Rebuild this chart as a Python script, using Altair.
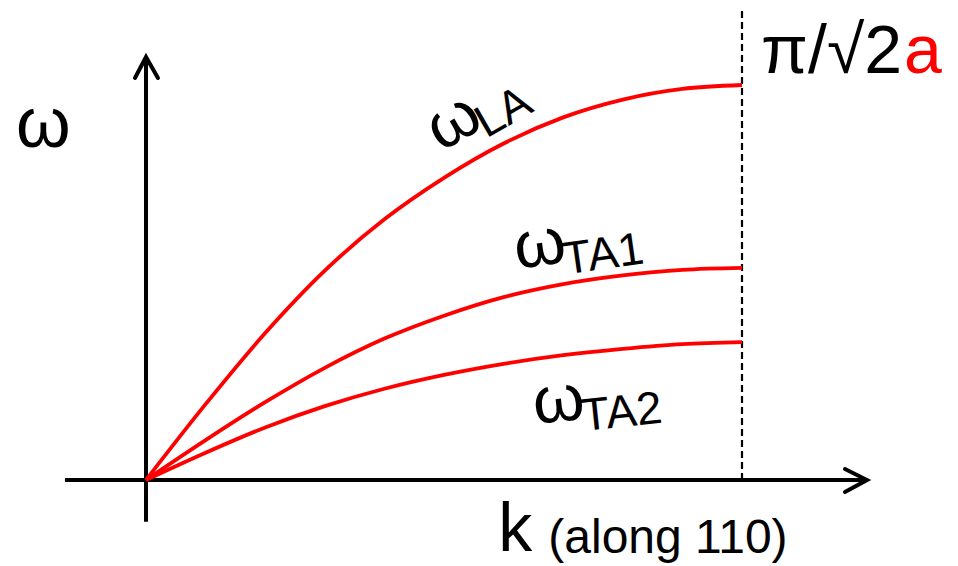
import altair as alt
import pandas as pd

# ---- data (k normalised to the zone edge, omega normalised to LA maximum) ----
k_grid = [0, 0.1, 0.2, 0.3, 0.4, 0.5, 0.6, 0.7, 0.8, 0.9, 1.0]
w_LA = [0, 0.192, 0.372, 0.530, 0.660, 0.765, 0.852, 0.918, 0.963, 0.990, 1.0]
w_TA1 = [0, 0.101, 0.197, 0.284, 0.358, 0.416, 0.463, 0.496, 0.518, 0.532, 0.537]
w_TA2 = [0, 0.069, 0.133, 0.187, 0.231, 0.266, 0.294, 0.316, 0.332, 0.344, 0.349]

FONT = "Liberation Sans"
RED = "#ff0000"

X_DOM = [-146 / 596, (958 - 146) / 596]
Y_DOM = [(480 - 566) / 395, 480 / 395]
xs = alt.Scale(domain=X_DOM, nice=False, zero=False)
ys = alt.Scale(domain=Y_DOM, nice=False, zero=False)


def X(f="k"):
    return alt.X(f"{f}:Q", scale=xs, axis=None)


def Y(f="w"):
    return alt.Y(f"{f}:Q", scale=ys, axis=None)


curves = pd.concat([
    pd.DataFrame({"series": "LA", "k": k_grid, "w": w_LA}),
    pd.DataFrame({"series": "TA1", "k": k_grid, "w": w_TA1}),
    pd.DataFrame({"series": "TA2", "k": k_grid, "w": w_TA2}),
])

line_layer = alt.Chart(curves).mark_line(
    color=RED, strokeWidth=3.8, interpolate="monotone"
).encode(x=X(), y=Y(), detail="series:N")

# axes
axes_df = pd.DataFrame({
    "k0": [-0.136, 0.0], "k1": [1.2097, 0.0],
    "w0": [0.0, -0.106], "w1": [0.0, 1.068],
})
axes_layer = alt.Chart(axes_df).mark_rule(color="black", strokeWidth=4).encode(
    x=X("k0"), x2="k1", y=Y("w0"), y2="w1"
)

heads_df = pd.DataFrame({
    "arrow": ["h", "h", "h", "v", "v", "v"],
    "i": [0, 1, 2, 0, 1, 2],
    "k": [1.1728, 1.2097, 1.1728, -0.0185, 0.0, 0.0201],
    "w": [0.0278, 0.0, -0.0304, 1.0177, 1.0709, 1.0177],
})
heads_layer = alt.Chart(heads_df).mark_line(
    color="black", strokeWidth=4, strokeCap="round", strokeJoin="miter"
).encode(x=X(), y=Y(), detail="arrow:N", order="i:Q")

dash_df = pd.DataFrame({"k": [1.0], "w0": [0.0], "w1": [1.19]})
dash_layer = alt.Chart(dash_df).mark_rule(
    color="black", strokeWidth=2.2, strokeDash=[7, 4]
).encode(x=X(), y=Y("w0"), y2="w1")


def label(text, k, w, size, color="black", angle=0, dx=0, dy=0, align="left"):
    df = pd.DataFrame({"t": [text], "k": [k], "w": [w]})
    props = dict(font=FONT, fontSize=size, color=color, align=align,
                 baseline="alphabetic", dx=dx, dy=dy)
    if angle:
        props["angle"] = angle
    return alt.Chart(df).mark_text(**props).encode(x=X(), y=Y(), text="t:N")


texts = [
    label("ω", -0.2181, 0.843, 70),
    label("π/√2", 1.2685, 1.0304, 68, align="right"),
    label("a", 1.2718, 1.0304, 68, color=RED),
    label("k", 0.591, -0.18, 68),
    label("(along 110)", 0.675, -0.185, 48),
    # omega_LA
    label("ω", 0.495, 0.830, 66, angle=330),
    label("LA", 0.495, 0.830, 46, angle=330, dx=46, dy=11),
    # omega_TA1
    label("ω", 0.6225, 0.534, 66, angle=352),
    label("TA1", 0.6225, 0.534, 46, angle=352, dx=47, dy=12),
    # omega_TA2
    label("ω", 0.6527, 0.1418, 66, angle=354),
    label("TA2", 0.6527, 0.1418, 46, angle=354, dx=47, dy=12),
]

chart = alt.layer(axes_layer, heads_layer, dash_layer, line_layer, *texts).properties(
    width=958, height=566, padding=0, autosize=alt.AutoSizeParams(type="none")
).configure_view(stroke=None)

chart.save("out.html", embed_options={"renderer": "svg", "actions": False})
